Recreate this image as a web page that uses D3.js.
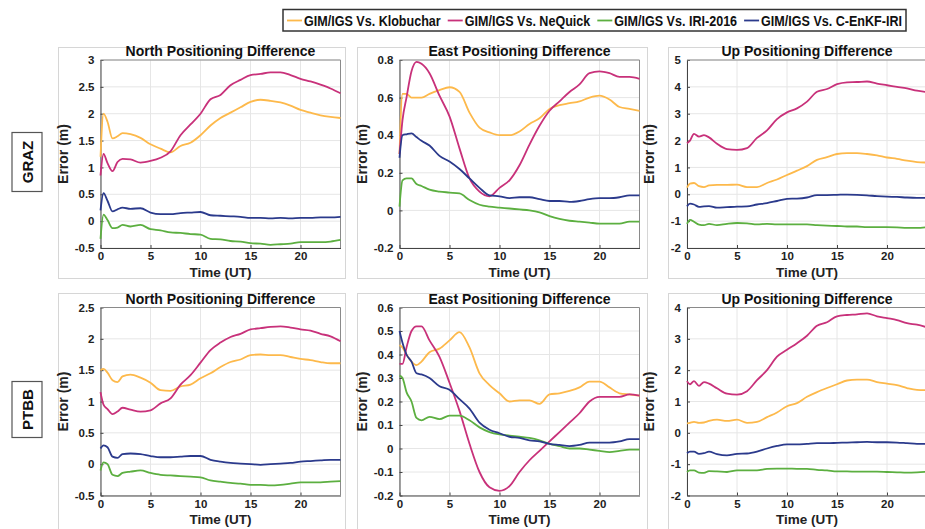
<!DOCTYPE html>
<html>
<head>
<meta charset="utf-8">
<script src="https://cdn.jsdelivr.net/npm/d3@7"></script>
<style>
  body { margin: 0; background: #fff; }
  svg { display: block; font-family: "Liberation Sans", Arial, Helvetica, sans-serif; }
</style>
</head>
<body>
<svg id="chart" width="925" height="529"></svg>
<script>
var hours = [0, 0.3, 0.7, 1.2, 1.7, 2.2, 3, 4, 5, 6, 7, 8, 9, 10, 11, 12, 13, 14, 15, 16, 17, 18, 19, 20, 21, 22, 23, 24];

var seriesNames = ["GIM/IGS Vs. Klobuchar", "GIM/IGS Vs. NeQuick", "GIM/IGS Vs. IRI-2016", "GIM/IGS Vs. C-EnKF-IRI"];
var seriesColors = ["#fdb94b", "#c8317a", "#5caf40", "#2b3a8c"];
var stations = ["GRAZ", "PTBB"];
var panelTitles = ["North Positioning Difference", "East Positioning Difference", "Up Positioning Difference"];
var xTicks = [0, 5, 10, 15, 20];

// GRAZ
var grazNorthKlob = [1.2, 2.0, 1.85, 1.54, 1.58, 1.64, 1.62, 1.55, 1.43, 1.35, 1.28, 1.4, 1.46, 1.6, 1.78, 1.92, 2.02, 2.12, 2.22, 2.26, 2.24, 2.21, 2.15, 2.07, 2.02, 1.97, 1.94, 1.92];
var grazNorthNeq = [0.85, 1.25, 1.08, 0.93, 1.1, 1.16, 1.15, 1.09, 1.12, 1.18, 1.3, 1.6, 1.8, 2.0, 2.27, 2.35, 2.53, 2.63, 2.72, 2.74, 2.77, 2.77, 2.72, 2.65, 2.6, 2.54, 2.47, 2.38];
var grazNorthIri = [-0.33, 0.12, 0.02, -0.13, -0.12, -0.07, -0.1, -0.07, -0.15, -0.17, -0.21, -0.22, -0.24, -0.25, -0.33, -0.34, -0.37, -0.38, -0.41, -0.42, -0.44, -0.43, -0.42, -0.39, -0.39, -0.39, -0.38, -0.35];
var grazNorthEnkf = [0.2, 0.52, 0.38, 0.18, 0.22, 0.25, 0.23, 0.24, 0.16, 0.13, 0.13, 0.15, 0.16, 0.17, 0.11, 0.1, 0.09, 0.08, 0.06, 0.06, 0.05, 0.06, 0.05, 0.06, 0.06, 0.07, 0.07, 0.08];

var grazEastKlob = [0.3, 0.62, 0.62, 0.6, 0.6, 0.6, 0.62, 0.64, 0.655, 0.63, 0.52, 0.44, 0.415, 0.4, 0.4, 0.42, 0.46, 0.49, 0.54, 0.56, 0.57, 0.58, 0.6, 0.61, 0.59, 0.55, 0.54, 0.53];
var grazEastNeq = [0.3, 0.48, 0.6, 0.74, 0.79, 0.78, 0.73, 0.61, 0.5, 0.33, 0.17, 0.1, 0.075, 0.12, 0.16, 0.24, 0.35, 0.45, 0.53, 0.58, 0.63, 0.67, 0.73, 0.74, 0.73, 0.71, 0.71, 0.7];
var grazEastIri = [0.02, 0.16, 0.17, 0.17, 0.14, 0.13, 0.11, 0.1, 0.095, 0.09, 0.055, 0.03, 0.02, 0.015, 0.01, 0.005, 0, -0.01, -0.03, -0.045, -0.055, -0.06, -0.065, -0.07, -0.07, -0.07, -0.06, -0.06];
var grazEastEnkf = [0.28, 0.4, 0.405, 0.41, 0.39, 0.37, 0.345, 0.29, 0.26, 0.22, 0.17, 0.12, 0.08, 0.075, 0.065, 0.07, 0.07, 0.06, 0.05, 0.05, 0.045, 0.05, 0.06, 0.065, 0.065, 0.07, 0.08, 0.08];

var grazUpKlob = [0.25, 0.4, 0.42, 0.3, 0.27, 0.33, 0.35, 0.35, 0.36, 0.27, 0.27, 0.42, 0.55, 0.72, 0.88, 1.05, 1.28, 1.38, 1.5, 1.53, 1.53, 1.5, 1.45, 1.37, 1.32, 1.25, 1.2, 1.18];
var grazUpNeq = [1.9, 2.0, 2.25, 2.15, 2.2, 2.12, 1.88, 1.68, 1.65, 1.72, 2.1, 2.38, 2.8, 3.05, 3.2, 3.45, 3.82, 3.92, 4.1, 4.17, 4.18, 4.2, 4.12, 4.06, 4.0, 3.94, 3.86, 3.8];
var grazUpIri = [-1.1, -0.95, -1.02, -1.13, -1.15, -1.1, -1.15, -1.1, -1.07, -1.08, -1.12, -1.1, -1.12, -1.12, -1.12, -1.12, -1.15, -1.17, -1.18, -1.2, -1.2, -1.22, -1.22, -1.22, -1.23, -1.25, -1.25, -1.22];
var grazUpEnkf = [-0.45, -0.35, -0.38, -0.47, -0.45, -0.44, -0.5, -0.48, -0.46, -0.45, -0.38, -0.33, -0.25, -0.17, -0.16, -0.12, -0.03, -0.03, -0.02, -0.01, -0.02, -0.04, -0.07, -0.09, -0.1, -0.12, -0.13, -0.13];

// PTBB
var ptbbNorthKlob = [1.5, 1.52, 1.46, 1.34, 1.31, 1.4, 1.43, 1.38, 1.3, 1.18, 1.17, 1.24, 1.27, 1.37, 1.45, 1.55, 1.63, 1.67, 1.74, 1.75, 1.74, 1.74, 1.71, 1.68, 1.66, 1.63, 1.61, 1.61];
var ptbbNorthNeq = [1.15, 0.95, 0.88, 0.8, 0.84, 0.9, 0.87, 0.84, 0.86, 0.97, 1.05, 1.27, 1.42, 1.62, 1.82, 1.94, 2.03, 2.08, 2.15, 2.17, 2.19, 2.2, 2.18, 2.15, 2.13, 2.08, 2.04, 1.96];
var ptbbNorthIri = [-0.1, 0.03, 0.0, -0.17, -0.19, -0.14, -0.12, -0.1, -0.14, -0.17, -0.18, -0.19, -0.2, -0.21, -0.26, -0.28, -0.3, -0.31, -0.33, -0.33, -0.34, -0.33, -0.31, -0.29, -0.29, -0.29, -0.28, -0.27];
var ptbbNorthEnkf = [0.25, 0.3, 0.27, 0.12, 0.1, 0.16, 0.17, 0.16, 0.13, 0.11, 0.11, 0.12, 0.13, 0.13, 0.07, 0.04, 0.02, 0.01, 0.0, -0.01, 0.0, 0.01, 0.02, 0.04, 0.05, 0.06, 0.07, 0.07];

var ptbbEastKlob = [0.44, 0.43, 0.4, 0.37, 0.355, 0.37, 0.41, 0.425, 0.46, 0.495, 0.43, 0.32, 0.27, 0.235, 0.2, 0.205, 0.205, 0.19, 0.23, 0.235, 0.245, 0.26, 0.285, 0.285, 0.26, 0.235, 0.23, 0.225];
var ptbbEastNeq = [0.36, 0.36, 0.43, 0.5, 0.52, 0.52, 0.46, 0.39, 0.28, 0.16, 0.02, -0.1, -0.165, -0.18, -0.16, -0.1, -0.05, -0.01, 0.03, 0.07, 0.11, 0.15, 0.2, 0.22, 0.22, 0.22, 0.23, 0.225];
var ptbbEastIri = [0.31, 0.3, 0.24, 0.2, 0.13, 0.12, 0.135, 0.125, 0.14, 0.14, 0.12, 0.09, 0.07, 0.06, 0.055, 0.05, 0.045, 0.035, 0.02, 0.01, 0, 0, -0.005, -0.01, -0.015, -0.01, -0.005, -0.005];
var ptbbEastEnkf = [0.5, 0.45, 0.4, 0.37, 0.32, 0.315, 0.3, 0.265, 0.25, 0.21, 0.17, 0.11, 0.08, 0.065, 0.05, 0.045, 0.035, 0.03, 0.02, 0.015, 0.01, 0.015, 0.025, 0.025, 0.025, 0.03, 0.04, 0.04];

var ptbbUpKlob = [0.3, 0.32, 0.35, 0.32, 0.33, 0.38, 0.42, 0.38, 0.42, 0.32, 0.35, 0.5, 0.65, 0.85, 0.95, 1.15, 1.3, 1.43, 1.55, 1.67, 1.7, 1.7, 1.62, 1.57, 1.52, 1.43, 1.37, 1.36];
var ptbbUpNeq = [1.65, 1.55, 1.65, 1.5, 1.62, 1.57, 1.42, 1.25, 1.22, 1.33, 1.68, 2.0, 2.43, 2.65, 2.86, 3.1, 3.42, 3.53, 3.72, 3.76, 3.78, 3.81, 3.72, 3.66, 3.6, 3.5, 3.45, 3.37];
var ptbbUpIri = [-1.25, -1.2, -1.2, -1.27, -1.28, -1.22, -1.23, -1.25, -1.2, -1.2, -1.2, -1.15, -1.14, -1.14, -1.15, -1.15, -1.18, -1.2, -1.23, -1.23, -1.24, -1.24, -1.24, -1.25, -1.26, -1.27, -1.26, -1.24];
var ptbbUpEnkf = [-0.65, -0.6, -0.6, -0.67, -0.65, -0.6, -0.68, -0.72, -0.67, -0.66, -0.6, -0.5, -0.42, -0.37, -0.37, -0.35, -0.33, -0.33, -0.32, -0.31, -0.3, -0.29, -0.3, -0.3, -0.31, -0.33, -0.35, -0.35];

// y ranges and tick steps per panel
var yDomains = [[[-0.5, 3], [-0.2, 0.8], [-2, 5]], [[-0.5, 2.5], [-0.2, 0.6], [-2, 4]]];
var yTickSteps = [[0.5, 0.2, 1], [0.5, 0.1, 1]];

var panelData = [
    [[grazNorthKlob, grazNorthNeq, grazNorthIri, grazNorthEnkf],
     [grazEastKlob, grazEastNeq, grazEastIri, grazEastEnkf],
     [grazUpKlob, grazUpNeq, grazUpIri, grazUpEnkf]],
    [[ptbbNorthKlob, ptbbNorthNeq, ptbbNorthIri, ptbbNorthEnkf],
     [ptbbEastKlob, ptbbEastNeq, ptbbEastIri, ptbbEastEnkf],
     [ptbbUpKlob, ptbbUpNeq, ptbbUpIri, ptbbUpEnkf]]
];

// layout
var plotLeft = [100.5, 399.5, 687];
var plotTop = [60, 307.5];
var plotW = 240, plotH = 188;
var frameX = [[58, 345], [357, 647], [668, 940]];
var frameY = [[47, 278], [293, 540]];

var svg = d3.select("#chart");
svg.append("rect").attr("width", 925).attr("height", 529).attr("fill", "#fff");

var fmt = function(d) { return String(+d.toFixed(2)); };

stations.forEach(function(st, r) {
    // station label box
    var cy = (plotTop[r] + plotH / 2) + 8;
    var bh = st === "GRAZ" ? 59 : 56;
    svg.append("rect")
        .attr("x", 12).attr("y", cy - bh / 2)
        .attr("width", 30).attr("height", bh)
        .attr("fill", "none").attr("stroke", "#555").attr("stroke-width", 1.2);
    svg.append("text")
        .attr("transform", "translate(33," + cy + ") rotate(-90)")
        .attr("text-anchor", "middle")
        .style("font-size", "15px").style("font-weight", "bold")
        .attr("fill", "#111")
        .text(st);

    for (var c = 0; c < 3; c++) {
        drawPanel(r, c);
    }
});

function drawPanel(r, c) {
    var x0 = plotLeft[c], y0 = plotTop[r];

    svg.append("rect")
        .attr("x", frameX[c][0] + 0.5).attr("y", frameY[r][0] + 0.5)
        .attr("width", frameX[c][1] - frameX[c][0]).attr("height", frameY[r][1] - frameY[r][0])
        .attr("fill", "none").attr("stroke", "#d6d6d6").attr("stroke-width", 1);

    var x = d3.scaleLinear().domain([0, 24]).range([x0, x0 + plotW]);
    var y = d3.scaleLinear().domain(yDomains[r][c]).range([y0 + plotH, y0]);
    var yTicks = d3.range(yDomains[r][c][0], yDomains[r][c][1] + 1e-9, yTickSteps[r][c])
        .map(function(v) { return +v.toFixed(2); });

    var g = svg.append("g");

    // grid
    g.selectAll(".gx").data(xTicks).enter().append("line")
        .attr("x1", function(d) { return x(d); }).attr("x2", function(d) { return x(d); })
        .attr("y1", y0).attr("y2", y0 + plotH)
        .attr("stroke", "#e6e6e6").attr("stroke-width", 1);
    g.selectAll(".gy").data(yTicks).enter().append("line")
        .attr("x1", x0).attr("x2", x0 + plotW)
        .attr("y1", function(d) { return y(d); }).attr("y2", function(d) { return y(d); })
        .attr("stroke", "#e6e6e6").attr("stroke-width", 1);

    // axes
    var xAxis = g.append("g").attr("transform", "translate(0," + (y0 + plotH) + ")")
        .call(d3.axisBottom(x).tickValues(xTicks).tickFormat(fmt).tickSizeInner(-3).tickSizeOuter(0).tickPadding(4));
    var yAxis = g.append("g").attr("transform", "translate(" + x0 + ",0)")
        .call(d3.axisLeft(y).tickValues(yTicks).tickFormat(fmt).tickSizeInner(-3).tickSizeOuter(0).tickPadding(6));
    [xAxis, yAxis].forEach(function(a) {
        a.select(".domain").attr("stroke", "#444").attr("stroke-width", 1);
        a.selectAll(".tick line").attr("stroke", "#444");
        a.selectAll("text").attr("fill", "#222")
            .style("font-size", "11.5px").style("font-weight", "bold")
            .style("font-family", "'Liberation Sans', Arial, sans-serif");
    });
    // box top/right
    g.append("line").attr("x1", x0).attr("x2", x0 + plotW).attr("y1", y0).attr("y2", y0)
        .attr("stroke", "#8a8a8a").attr("stroke-width", 1);
    g.append("line").attr("x1", x0 + plotW).attr("x2", x0 + plotW).attr("y1", y0).attr("y2", y0 + plotH)
        .attr("stroke", "#8a8a8a").attr("stroke-width", 1);

    // curves
    var line = d3.line()
        .x(function(d, i) { return x(hours[i]); })
        .y(function(d) { return y(d); })
        .curve(d3.curveMonotoneX);
    panelData[r][c].forEach(function(vals, k) {
        g.append("path")
            .datum(vals)
            .attr("d", line)
            .attr("fill", "none")
            .attr("stroke", seriesColors[k])
            .attr("stroke-width", 1.8)
            .attr("stroke-linejoin", "round");
    });

    // titles and labels
    g.append("text")
        .attr("x", x0 + plotW / 2).attr("y", y0 - 4)
        .attr("text-anchor", "middle")
        .style("font-size", "14px").style("font-weight", "bold")
        .attr("fill", "#111")
        .text(panelTitles[c]);
    g.append("text")
        .attr("x", x0 + plotW / 2).attr("y", y0 + plotH + 28.5)
        .attr("text-anchor", "middle")
        .style("font-size", "13.5px").style("font-weight", "bold")
        .attr("fill", "#222")
        .text("Time (UT)");
    g.append("text")
        .attr("transform", "translate(" + (x0 - 33) + "," + (y0 + plotH / 2) + ") rotate(-90)")
        .attr("text-anchor", "middle")
        .style("font-size", "14px").style("font-weight", "bold")
        .attr("fill", "#222")
        .text("Error (m)");
}

// legend box spans x 283..906; the (slightly condensed) text is fitted to that width
var legLeft = 283, legRight = 906, legFont = 14;
var lineLen = 15, gap = 2, sep = 7, pad = 4;
var leg = svg.append("g");
var items = leg.selectAll(".item").data(seriesNames).enter().append("g");
items.append("text")
    .attr("y", 25.8)
    .style("font-size", legFont + "px").style("font-weight", "bold")
    .attr("fill", "#111")
    .text(function(d) { return d; });
var widths = [];
items.select("text").each(function() { widths.push(this.getComputedTextLength()); });
var fixed = 2 * pad + seriesNames.length * (lineLen + gap) + (seriesNames.length - 1) * sep;
var k = (legRight - legLeft - fixed) / d3.sum(widths);
widths = widths.map(function(w) { return w * k; });
var cursor = legLeft + pad;
items.each(function(d, i) {
    var it = d3.select(this);
    it.append("line")
        .attr("x1", cursor).attr("x2", cursor + lineLen)
        .attr("y1", 20.5).attr("y2", 20.5)
        .attr("stroke", seriesColors[i]).attr("stroke-width", 1.8);
    it.select("text")
        .attr("x", cursor + lineLen + gap)
        .attr("textLength", widths[i])
        .attr("lengthAdjust", "spacingAndGlyphs");
    cursor += lineLen + gap + widths[i] + sep;
});
leg.insert("rect", ":first-child")
    .attr("x", legLeft).attr("y", 9.5)
    .attr("width", legRight - legLeft).attr("height", 21.5)
    .attr("fill", "#fff").attr("stroke", "#333").attr("stroke-width", 1.5);
</script>
</body>
</html>
